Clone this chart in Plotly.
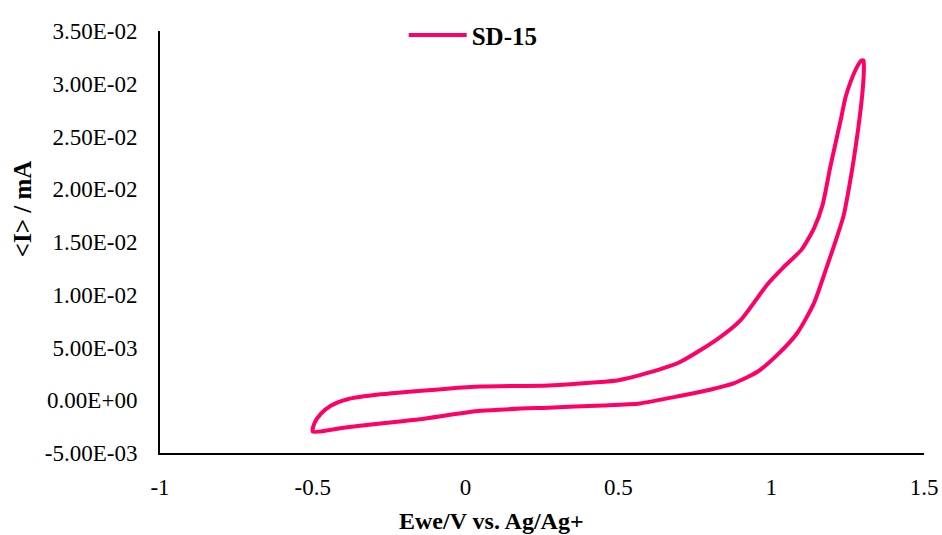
import plotly.graph_objects as go

# Forward scan (lower branch), then reverse scan (upper branch)
x_forward = [-0.5, -0.4, -0.278, -0.15, 0.049, 0.27, 0.45, 0.57, 0.70, 0.80, 0.877, 0.955,
             1.02, 1.086, 1.14, 1.185, 1.212, 1.237, 1.255, 1.27, 1.285, 1.298, 1.303, 1.302]
y_forward = [-0.00297, -0.0026, -0.0022, -0.0018, -0.0010, -0.0007, -0.0005, -0.0003, 0.0004,
             0.0010, 0.0016, 0.0027, 0.0043, 0.0064, 0.0092, 0.0129, 0.0152, 0.0175, 0.0202,
             0.0228, 0.0258, 0.0290, 0.0311, 0.0322]
x_reverse = [1.295, 1.281, 1.26, 1.243, 1.227, 1.194, 1.168, 1.14, 1.10, 1.04, 0.988, 0.90,
             0.824, 0.70, 0.573, 0.50, 0.43, 0.27, 0.05, -0.06, -0.278, -0.386, -0.44, -0.474,
             -0.495, -0.5]
y_reverse = [0.0322, 0.0316, 0.0302, 0.0287, 0.0265, 0.0222, 0.0185, 0.0163, 0.0143, 0.0126,
             0.0110, 0.0076, 0.0058, 0.0036, 0.0024, 0.0019, 0.0017, 0.0014, 0.0013, 0.0011,
             0.00056, 0.0001, -0.0005, -0.0013, -0.0022, -0.00297]

x_ticks = [-1, -0.5, 0, 0.5, 1, 1.5]
x_ticktext = ["-1", "-0.5", "0", "0.5", "1", "1.5"]
y_ticks = [-0.005, 0.0, 0.005, 0.01, 0.015, 0.02, 0.025, 0.03, 0.035]
y_ticktext = [f"{v:.2E}" for v in y_ticks]

series_name = "SD-15"
x_title = "<b>Ewe/V vs. Ag/Ag+</b>"
y_title = "<b>&lt;I&gt; / mA</b>"
color = "#FF0066"
font_family = "Liberation Serif, Times New Roman, serif"

fig = go.Figure()
fig.add_trace(go.Scatter(
    x=x_forward + x_reverse,
    y=y_forward + y_reverse,
    mode="lines",
    name=series_name,
    line=dict(color=color, width=4, shape="spline", smoothing=0.6),
))

fig.update_layout(
    width=942, height=535,
    margin=dict(l=160, r=18, t=22, b=82),
    plot_bgcolor="white", paper_bgcolor="white",
    font=dict(family=font_family, size=23, color="black"),
    showlegend=True,
    legend=dict(
        x=0.319, y=0.99, xanchor="left", yanchor="middle",
        orientation="h", bgcolor="rgba(0,0,0,0)",
        font=dict(family=font_family, size=25, color="black", weight="bold"),
        itemwidth=58,
    ),
    xaxis=dict(
        range=[-1, 1.5], tickvals=x_ticks, ticktext=x_ticktext, automargin=False,
        showgrid=False, zeroline=False, showline=True, linecolor="black", linewidth=2,
        ticks="", ticklabelstandoff=12,
    ),
    yaxis=dict(
        range=[-0.005, 0.035], tickvals=y_ticks, ticktext=y_ticktext, automargin=False,
        showgrid=False, zeroline=False, showline=True, linecolor="black", linewidth=2,
        ticks="", ticklabelstandoff=16,
    ),
    annotations=[
        dict(text=x_title, xref="paper", yref="paper", x=(491 - 160) / 764, y=-69 / 431,
             xanchor="center", yanchor="middle", showarrow=False,
             font=dict(family=font_family, size=24, color="black")),
        dict(text=y_title, xref="paper", yref="paper", x=-138 / 764, y=(453 - 204) / 431,
             xanchor="center", yanchor="middle", showarrow=False, textangle=-90,
             font=dict(family=font_family, size=25, color="black")),
    ],
)

fig.write_html("out.html")
